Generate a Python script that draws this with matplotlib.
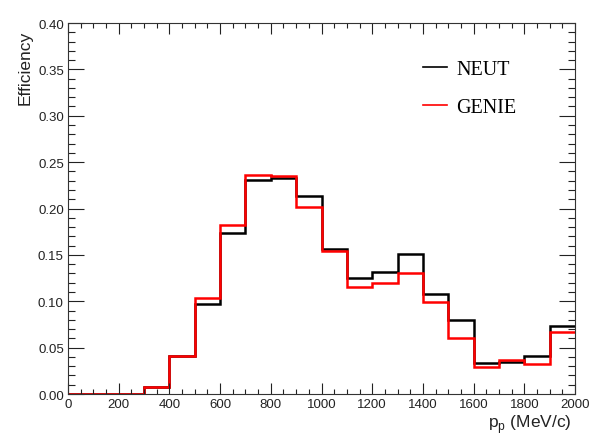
import numpy as np
import matplotlib.pyplot as plt
from matplotlib.ticker import MultipleLocator, FormatStrFormatter

# Proton momentum bins (MeV/c), 100 MeV/c wide
bin_edges = np.arange(0, 2001, 100)

# Selection efficiency per bin
neut_eff = [0.0, 0.0, 0.0, 0.008, 0.041, 0.097, 0.174, 0.231, 0.233, 0.214,
            0.156, 0.125, 0.132, 0.151, 0.108, 0.080, 0.033, 0.034, 0.041, 0.073]
genie_eff = [0.0, 0.0, 0.0, 0.008, 0.041, 0.103, 0.182, 0.236, 0.235, 0.202,
             0.154, 0.115, 0.120, 0.131, 0.099, 0.060, 0.029, 0.037, 0.032, 0.067]

plt.rcParams['font.family'] = ['Liberation Sans', 'DejaVu Sans']
plt.rcParams['mathtext.fontset'] = 'custom'
plt.rcParams['mathtext.rm'] = 'Liberation Sans'

fig = plt.figure(figsize=(5.94, 4.39), dpi=100)
ax = fig.add_axes([0.1145, 0.1002, 0.8535, 0.8451])

ax.stairs(neut_eff, bin_edges, baseline=None, color='black', linewidth=1.8, label='NEUT')
ax.stairs(genie_eff, bin_edges, baseline=None, color='#ff0000', linewidth=1.8, label='GENIE')

ax.set_xlim(0, 2000)
ax.set_ylim(0, 0.40)

ax.xaxis.set_major_locator(MultipleLocator(200))
ax.xaxis.set_minor_locator(MultipleLocator(50))
ax.yaxis.set_major_locator(MultipleLocator(0.05))
ax.yaxis.set_minor_locator(MultipleLocator(0.01))
ax.yaxis.set_major_formatter(FormatStrFormatter('%.2f'))

ax.tick_params(which='both', direction='in', top=True, right=True,
               labelsize=9.5, colors='#222222', width=0.8)
ax.tick_params(axis='x', which='major', length=8, pad=3)
ax.tick_params(axis='x', which='minor', length=3.6)
ax.tick_params(axis='y', which='major', length=11.5, pad=3)
ax.tick_params(axis='y', which='minor', length=5)
for sp in ax.spines.values():
    sp.set_linewidth(0.8)
    sp.set_color('#333333')

# axis titles placed ROOT-style: y title at top, x title at right
fig.text(25 / 594, 1 - 31 / 439, 'Efficiency', rotation=90, fontsize=12.5,
         ha='center', va='top', color='#222222')
fig.text(572 / 594, 1 - 428 / 439, r'p$_{\rm p}$ (MeV/c)', fontsize=12.5,
         ha='right', va='baseline', color='#222222')

leg = ax.legend(loc='upper left', bbox_to_anchor=(0.665, 0.95), frameon=False,
                prop={'family': 'Liberation Serif', 'size': 14.5},
                handlelength=1.2, handletextpad=0.45, labelspacing=0.95)
for h in leg.legend_handles:
    h.set_linewidth(1.2)

fig.savefig('out.png', dpi=100)
